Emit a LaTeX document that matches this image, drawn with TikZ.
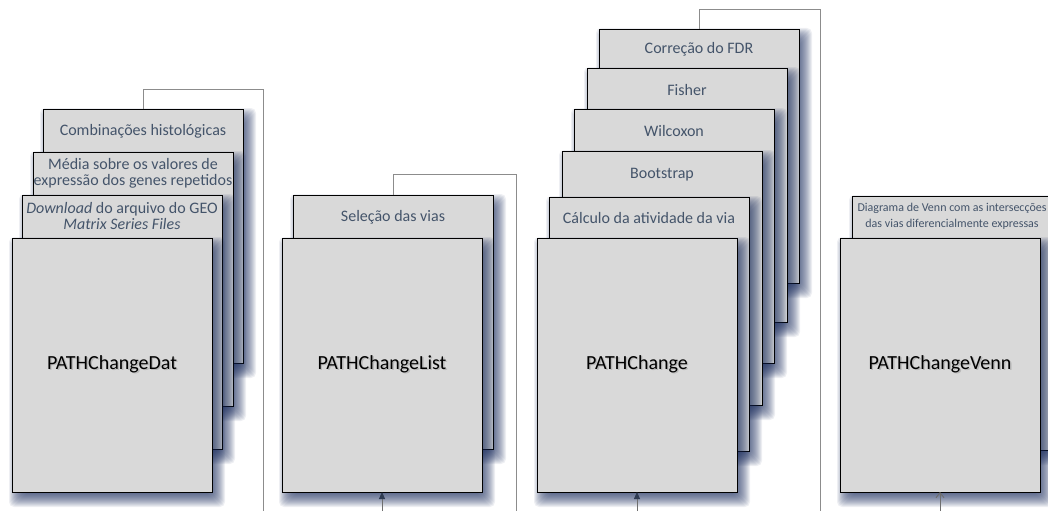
\documentclass[tikz,border=0pt]{standalone}
\usepackage{fontspec}
\setmainfont{Carlito}
\usetikzlibrary{arrows.meta}

\definecolor{cardfill}{HTML}{D9D9D9}
\definecolor{striptxt}{HTML}{44546A}
\definecolor{shadecol}{HTML}{17295A}
\definecolor{linkcol}{HTML}{8C8C8C}
\definecolor{feedcol}{HTML}{6E6E6E}
\definecolor{tipcol}{HTML}{2F3B52}

% label with a soft drop shadow behind the glyphs
\newcommand\softlabel[1]{\makebox[0pt][l]{\hspace{1.4pt}\raisebox{-1.4pt}{\textcolor{black!28}{#1}}}#1}

% blurred drop shadow for a 200 x 254 card whose top-left corner is (#1,#2)
\newcommand\cardshade[2]{%
  \foreach \g in {-5,...,8}{%
    \fill[shadecol, fill opacity=0.075, rounded corners=5pt]
      ({#1+5-\g},{#2+7-\g}) rectangle ({#1+205+\g},{#2+261+\g});
  }%
}

\tikzset{
  card/.style={draw=black, line width=0.8pt, fill=cardfill,
    minimum width=200pt, minimum height=254pt, inner sep=0pt, outer sep=0pt},
  maincard/.style={card, font=\fontsize{20}{24}\selectfont},
  striptext/.style={text=striptxt, font=\fontsize{16}{16.5}\selectfont,
    align=center, inner sep=0pt},
  smallstrip/.style={striptext, font=\fontsize{12}{15.5}\selectfont},
  link/.style={draw=linkcol, line width=0.9pt},
  feed/.style={draw=feedcol, line width=0.9pt,
    -{Triangle[width=6pt,length=7pt,color=tipcol,fill=tipcol]}},
  openfeed/.style={draw=feedcol, line width=0.9pt,
    -{Straight Barb[width=8pt,length=5pt,color=feedcol]}},
}

\begin{document}
\begin{tikzpicture}[x=1pt,y=-1pt]
\useasboundingbox (0,0) rectangle (1048,511);
\clip (0,0) rectangle (1048,511);

% ---------- PATHChangeDat ----------
\cardshade{43}{109}
\node[card] (dat3) at (143,236) {};
\node[striptext] (dat3t) at ([yshift=-22pt]dat3.north) {Combinações histológicas};
\cardshade{33}{152}
\node[card] (dat2) at (133,279) {};
\node[striptext] (dat2t) at ([yshift=-21.5pt]dat2.north) {Média sobre os valores de\\expressão dos genes repetidos};
\cardshade{22}{195}
\node[card] (dat1) at (122,322) {};
\node[striptext] (dat1t) at ([yshift=-21pt]dat1.north) {\textit{Download} do arquivo do GEO\\\textit{Matrix Series Files}};
\cardshade{12}{238}
\node[maincard] (dat) at (112,365) {\softlabel{PATHChangeDat}};

% ---------- PATHChangeList ----------
\cardshade{293}{195}
\node[card] (list1) at (393,322) {};
\node[striptext] (list1t) at ([yshift=-22pt]list1.north) {Seleção das vias};
\cardshade{282}{238}
\node[maincard] (list) at (382,365) {\softlabel{PATHChangeList}};

% ---------- PATHChange ----------
\cardshade{599}{29}
\node[card] (fdr) at (699,156) {};
\node[striptext] (fdrt) at ([yshift=-20pt]fdr.north) {Correção do FDR};
\cardshade{587}{68}
\node[card] (fisher) at (687,195) {};
\node[striptext] (fishert) at ([yshift=-22pt]fisher.north) {Fisher};
\cardshade{574}{109}
\node[card] (wilc) at (674,236) {};
\node[striptext] (wilct) at ([yshift=-22pt]wilc.north) {Wilcoxon};
\cardshade{562}{151}
\node[card] (boot) at (662,278) {};
\node[striptext] (boott) at ([yshift=-24pt]boot.north) {Bootstrap};
\cardshade{549}{197}
\node[card] (calc) at (649,324) {};
\node[striptext] (calct) at ([yshift=-21.5pt]calc.north) {Cálculo da atividade da via};
\cardshade{537}{238}
\node[maincard] (pc) at (637,365) {\softlabel{PATHChange}};

% ---------- PATHChangeVenn ----------
\cardshade{852}{196}
\node[card] (venn1) at (952,323) {};
\node[smallstrip] (venn1t) at ([yshift=-20.5pt]venn1.north) {Diagrama de Venn com as intersecções\\das vias diferencialmente expressas};
\cardshade{840}{238}
\node[maincard] (venn) at (940,365) {\softlabel{PATHChangeVenn}};

% ---------- connectors ----------
\coordinate (datturn) at (263,89);
\coordinate (datout) at (263,511);
\coordinate (listturn) at (516,174);
\coordinate (listout) at (516,511);
\coordinate (pcturn) at (820,9);
\coordinate (pcout) at (820,511);
\coordinate (listin) at (382,511);
\coordinate (pcin) at (637,511);
\coordinate (vennin) at (940,511);

\draw[link] (dat3.north) |- (datturn) -- (datout);
\draw[link] (list1.north) |- (listturn) -- (listout);
\draw[link] (fdr.north) |- (pcturn) -- (pcout);

\draw[feed] (listin) -- (list.south);
\draw[feed] (pcin) -- (pc.south);
\draw[openfeed] (vennin) -- (venn.south);
\end{tikzpicture}
\end{document}
